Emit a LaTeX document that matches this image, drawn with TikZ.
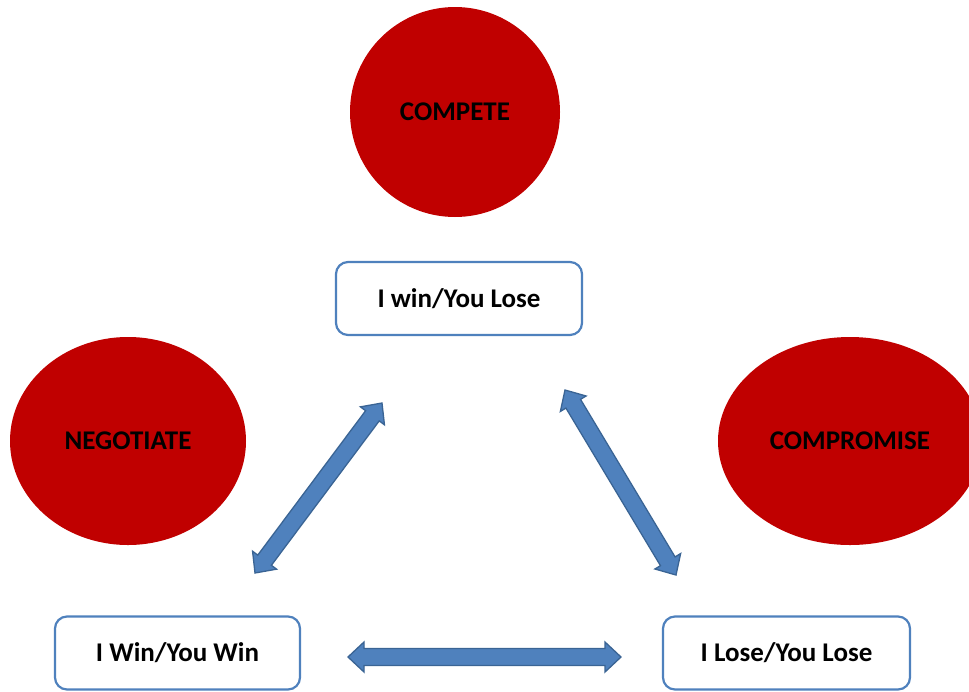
\documentclass[tikz,border=0pt]{standalone}
\usepackage{fontspec}
\setmainfont{Carlito}
\usetikzlibrary{calc,shapes.geometric}

\definecolor{oval}{HTML}{C00000}
\definecolor{boxline}{HTML}{4F81BD}
\definecolor{arrowfill}{HTML}{4F81BD}
\definecolor{arrowedge}{HTML}{3A6494}

\tikzset{
  labelfont/.style={font=\bfseries\fontsize{27}{30}\selectfont, text=black},
  stance/.style={labelfont, fill=oval, draw=none, inner sep=0pt},
  outcome/.style={labelfont, draw=boxline, line width=2.2pt, fill=white,
    rounded corners=12pt, minimum height=73pt, inner sep=0pt},
  blockarrow/.style={fill=arrowfill, draw=arrowedge, line width=1.3pt, line join=miter}
}

% block double arrow between two named coordinates
\newcommand\doublearrow[2]{%
  \path[blockarrow] (#1)
    -- ($(#1)!16pt!(#2)!15pt!90:(#2)$)
    -- ($(#1)!16pt!(#2)!8.5pt!90:(#2)$)
    -- ($(#2)!16pt!(#1)!8.5pt!-90:(#1)$)
    -- ($(#2)!16pt!(#1)!15pt!-90:(#1)$)
    -- (#2)
    -- ($(#2)!16pt!(#1)!15pt!90:(#1)$)
    -- ($(#2)!16pt!(#1)!8.5pt!90:(#1)$)
    -- ($(#1)!16pt!(#2)!8.5pt!-90:(#2)$)
    -- ($(#1)!16pt!(#2)!15pt!-90:(#2)$)
    -- cycle;}

\begin{document}
\begin{tikzpicture}[x=1pt, y=-1pt]
  \useasboundingbox (0,0) rectangle (969,691);
  \clip (0,0) rectangle (969,691);

  % strategies
  \node[stance, circle, minimum size=210pt] (compete) at (455,112) {COMPETE};
  \node[stance, ellipse, minimum width=236pt, minimum height=208pt] (negotiate) at (128,441) {NEGOTIATE};
  \node[stance, ellipse, minimum width=264pt, minimum height=208pt] (compromise) at (850,441) {COMPROMISE};

  % outcomes
  \node[outcome, minimum width=246pt] (winlose) at (459,298.5) {I win/You Lose};
  \node[outcome, minimum width=245pt] (winwin) at (177.5,653) {I Win/You Win};
  \node[outcome, minimum width=247pt] (loselose) at (786.5,653) {I Lose/You Lose};

  % arrow ends
  \coordinate (ww-a) at (255,573);
  \coordinate (wl-a) at (382,403);
  \coordinate (wl-b) at (565,390);
  \coordinate (ll-a) at (676,575);
  \coordinate (ww-b) at (348,657);
  \coordinate (ll-b) at (621,657);

  \doublearrow{ww-a}{wl-a}
  \doublearrow{wl-b}{ll-a}
  \doublearrow{ww-b}{ll-b}
\end{tikzpicture}
\end{document}
